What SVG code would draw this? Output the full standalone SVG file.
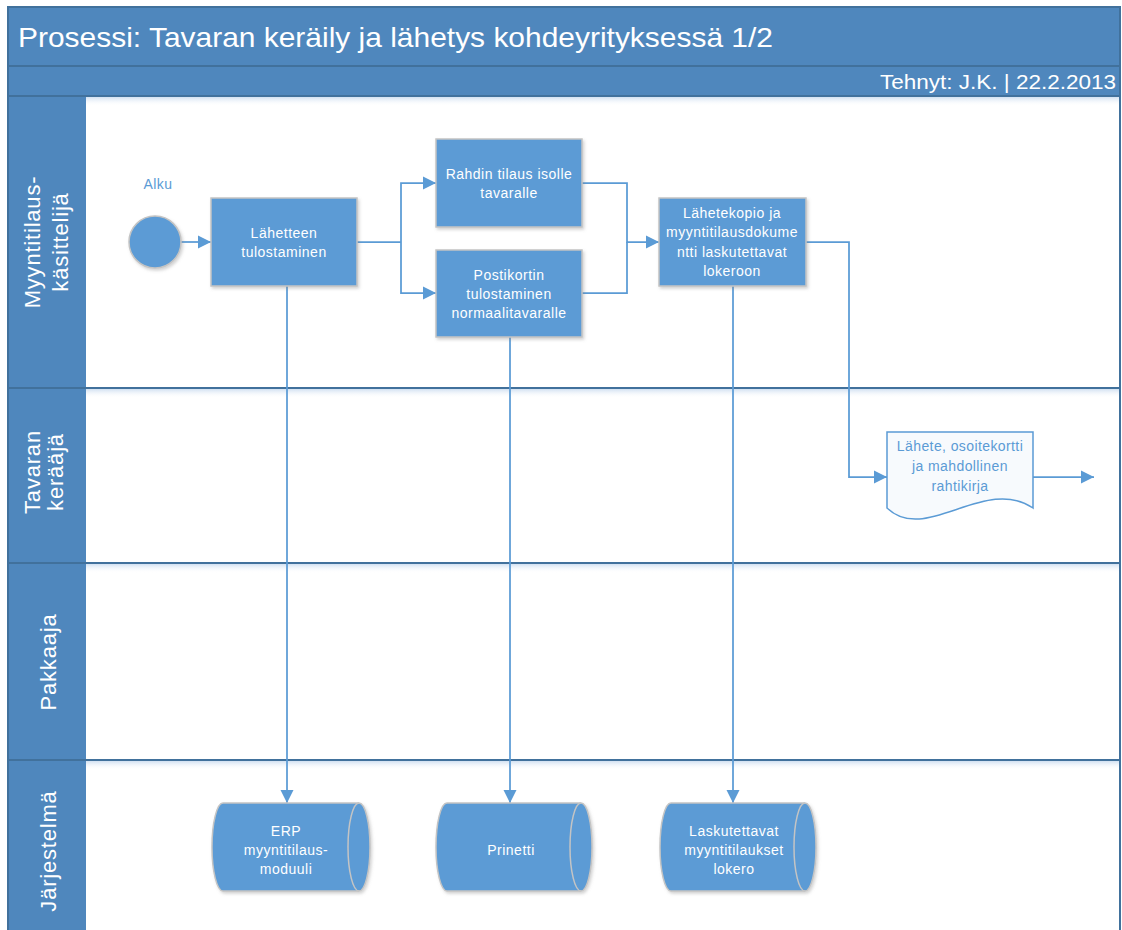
<svg xmlns="http://www.w3.org/2000/svg" width="1122" height="930" viewBox="0 0 1122 930">
  <defs>
    <style>
      .band { fill: #4f87bd; }
      .rule { stroke: #41719c; stroke-width: 2; fill: none; }
      .task { fill: #5b9bd5; stroke: #c4c4c4; stroke-width: 1.5; filter: url(#shade); }
      .wt { fill: #ffffff; font-family: "Liberation Sans", Arial, sans-serif; font-size: 14px; letter-spacing: 0.5px; text-anchor: middle; }
      .bt { fill: #5b9bd5; font-family: "Liberation Sans", Arial, sans-serif; font-size: 14px; letter-spacing: 0.4px; text-anchor: middle; }
      .lane { fill: #ffffff; font-family: "Liberation Sans", Arial, sans-serif; font-size: 22px; letter-spacing: 0.8px; text-anchor: middle; }
      .flow { fill: none; stroke: #5b9bd5; stroke-width: 1.75; }
      .arrow { marker-end: url(#head); }
    </style>
    <marker id="head" markerUnits="userSpaceOnUse" markerWidth="14" markerHeight="14" refX="13" refY="7" orient="auto">
      <path d="M0,0.5 L13,7 L0,13.5 Z" fill="#5b9bd5"/>
    </marker>
    <filter id="shade" x="-10%" y="-10%" width="125%" height="130%">
      <feDropShadow dx="1.5" dy="2" stdDeviation="1.5" flood-color="#7f7f7f" flood-opacity="0.35"/>
    </filter>
    <linearGradient id="lip" x1="0" y1="0" x2="0" y2="1">
      <stop offset="0" stop-color="#c6d9ee" stop-opacity="0.8"/>
      <stop offset="1" stop-color="#ffffff" stop-opacity="0"/>
    </linearGradient>
  </defs>

  <!-- pool frame, header and lane label column -->
  <g id="pool">
    <rect x="8" y="7" width="1112" height="940" fill="#ffffff"/>
    <rect class="band" x="8" y="7" width="1112" height="89"/>
    <rect class="band" x="8" y="96" width="78" height="850"/>
    <rect x="86" y="97" width="1033" height="9" fill="url(#lip)"/>
    <rect x="86" y="389" width="1033" height="9" fill="url(#lip)"/>
    <rect x="86" y="564" width="1033" height="9" fill="url(#lip)"/>
    <rect x="86" y="761" width="1033" height="9" fill="url(#lip)"/>
    <line class="rule" x1="8" y1="66" x2="1120" y2="66"/>
    <line class="rule" x1="8" y1="96" x2="1120" y2="96"/>
    <line class="rule" x1="8" y1="388" x2="1120" y2="388"/>
    <line class="rule" x1="8" y1="563" x2="1120" y2="563"/>
    <line class="rule" x1="8" y1="760" x2="1120" y2="760"/>
    <rect class="rule" x="8" y="7" width="1112" height="940"/>
    <text x="18" y="47" fill="#ffffff" font-family="'Liberation Sans', Arial, sans-serif" font-size="28" textLength="755" lengthAdjust="spacingAndGlyphs">Prosessi: Tavaran keräily ja lähetys kohdeyrityksessä 1/2</text>
    <text x="1116" y="89" fill="#ffffff" font-family="'Liberation Sans', Arial, sans-serif" font-size="20" text-anchor="end" textLength="236" lengthAdjust="spacingAndGlyphs">Tehnyt: J.K. | 22.2.2013</text>
  </g>

  <!-- lane titles -->
  <g id="lane-myyntitilaus">
    <text class="lane" transform="translate(40,242) rotate(-90)">Myyntitilaus-</text>
    <text class="lane" transform="translate(68,242) rotate(-90)">käsittelijä</text>
  </g>
  <g id="lane-keraaja">
    <text class="lane" transform="translate(40,472) rotate(-90)">Tavaran</text>
    <text class="lane" transform="translate(63,472) rotate(-90)">kerääjä</text>
  </g>
  <g id="lane-pakkaaja">
    <text class="lane" transform="translate(56,662) rotate(-90)">Pakkaaja</text>
  </g>
  <g id="lane-jarjestelma">
    <text class="lane" transform="translate(56,851) rotate(-90)">Järjestelmä</text>
  </g>

  <!-- connectors -->
  <g id="connectors">
    <path class="flow arrow" d="M181,242 H211"/>
    <path class="flow" d="M357,242 H401"/>
    <path class="flow arrow" d="M401,242 V183 H436"/>
    <path class="flow arrow" d="M401,242 V293 H436"/>
    <path class="flow" d="M582,293 H627 V242"/>
    <path class="flow arrow" d="M582,183 H627 V242 H659"/>
    <path class="flow arrow" d="M806,242 H849 V477 H887"/>
    <path class="flow arrow" d="M1033,477 H1094"/>
    <path class="flow arrow" d="M287,286 V803"/>
    <path class="flow arrow" d="M510,337 V803"/>
    <path class="flow arrow" d="M733,286 V803"/>
  </g>

  <!-- start event -->
  <g id="alku">
    <circle cx="155" cy="242" r="26" fill="#5b9bd5" stroke="#c4c4c4" stroke-width="1.5" filter="url(#shade)"/>
    <text class="bt" x="158" y="189">Alku</text>
  </g>

  <!-- tasks -->
  <g id="lahetteen-tulostaminen">
    <rect class="task" x="211" y="198" width="146" height="88"/>
    <text class="wt" x="284" y="238">Lähetteen</text>
    <text class="wt" x="284" y="257">tulostaminen</text>
  </g>
  <g id="rahdin-tilaus">
    <rect class="task" x="436" y="139" width="146" height="88"/>
    <text class="wt" x="509" y="179">Rahdin tilaus isolle</text>
    <text class="wt" x="509" y="198">tavaralle</text>
  </g>
  <g id="postikortin-tulostaminen">
    <rect class="task" x="436" y="250" width="146" height="87"/>
    <text class="wt" x="509" y="280">Postikortin</text>
    <text class="wt" x="509" y="299">tulostaminen</text>
    <text class="wt" x="509" y="318">normaalitavaralle</text>
  </g>
  <g id="lahetekopio">
    <rect class="task" x="659" y="198" width="147" height="88"/>
    <text class="wt" x="732" y="218">Lähetekopio ja</text>
    <text class="wt" x="732" y="237">myyntitilausdokume</text>
    <text class="wt" x="732" y="257">ntti laskutettavat</text>
    <text class="wt" x="732" y="276">lokeroon</text>
  </g>

  <!-- document -->
  <g id="lahete-dokumentti">
    <path d="M887,432 H1033 V508 C985,475 925,545 887,508 Z" fill="#f7fafd" stroke="#5b9bd5" stroke-width="1.5"/>
    <text class="bt" x="960" y="451">Lähete, osoitekortti</text>
    <text class="bt" x="960" y="471">ja mahdollinen</text>
    <text class="bt" x="960" y="491">rahtikirja</text>
  </g>

  <!-- stored data -->
  <g id="erp-moduuli" transform="translate(212,803)">
    <path class="task" d="M11,0 H147 A11,44 0 0 1 147,88 H11 A11,44 0 0 1 11,0 Z"/>
    <path d="M147,0 A11,44 0 0 0 147,88" fill="none" stroke="#c4c4c4" stroke-width="1.5"/>
    <text class="wt" x="74" y="33">ERP</text>
    <text class="wt" x="74" y="52">myyntitilaus-</text>
    <text class="wt" x="74" y="71">moduuli</text>
  </g>
  <g id="prinetti" transform="translate(436,803)">
    <path class="task" d="M11,0 H145 A11,44 0 0 1 145,88 H11 A11,44 0 0 1 11,0 Z"/>
    <path d="M145,0 A11,44 0 0 0 145,88" fill="none" stroke="#c4c4c4" stroke-width="1.5"/>
    <text class="wt" x="75" y="52">Prinetti</text>
  </g>
  <g id="laskutettavat-lokero" transform="translate(660,803)">
    <path class="task" d="M11,0 H145 A11,44 0 0 1 145,88 H11 A11,44 0 0 1 11,0 Z"/>
    <path d="M145,0 A11,44 0 0 0 145,88" fill="none" stroke="#c4c4c4" stroke-width="1.5"/>
    <text class="wt" x="74" y="33">Laskutettavat</text>
    <text class="wt" x="74" y="52">myyntitilaukset</text>
    <text class="wt" x="74" y="71">lokero</text>
  </g>
</svg>
